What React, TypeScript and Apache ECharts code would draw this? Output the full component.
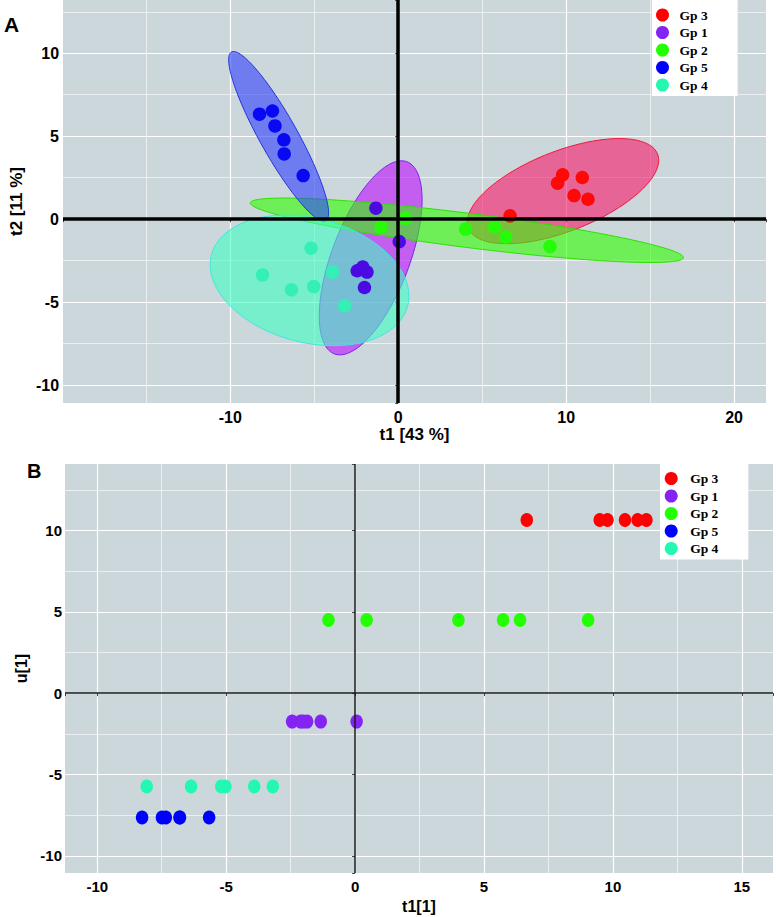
import React, { useEffect, useRef } from "react";
import * as echarts from "echarts";

// ---------------- data ----------------
const groups = ["Gp 3", "Gp 1", "Gp 2", "Gp 5", "Gp 4"];

// Panel A: scores t1 / t2
const t1Gp3 = [9.79, 9.49, 10.96, 10.47, 11.3, 6.66];
const t2Gp3 = [2.67, 2.17, 2.51, 1.42, 1.2, 0.2];
const t1Gp1 = [-1.33, 0.06, -2.44, -2.11, -1.86, -2.01];
const t2Gp1 = [0.66, -1.35, -3.11, -2.89, -3.19, -4.12];
const t1Gp2 = [-1.03, 0.45, 4.01, 5.74, 6.4, 9.04];
const t2Gp2 = [-0.48, 0.04, -0.6, -0.48, -1.08, -1.65];
const t1Gp5 = [-8.26, -7.49, -7.34, -6.81, -6.79, -5.66];
const t2Gp5 = [6.33, 6.52, 5.62, 4.78, 3.93, 2.63];
const t1Gp4 = [-5.19, -8.08, -6.36, -5.03, -3.91, -3.19];
const t2Gp4 = [-1.75, -3.36, -4.26, -4.06, -3.19, -5.22];

// Panel B: u[1] per sample (t1[1] = t1 above)
const u1Gp3 = [10.65, 10.65, 10.65, 10.65, 10.65, 10.65];
const u1Gp1 = [-1.75, -1.75, -1.75, -1.75, -1.75, -1.75];
const u1Gp2 = [4.5, 4.5, 4.5, 4.5, 4.5, 4.5];
const u1Gp5 = [-7.65, -7.65, -7.65, -7.65, -7.65, -7.65];
const u1Gp4 = [-5.74, -5.74, -5.74, -5.74, -5.74, -5.74];

// Confidence ellipses: [centre t1, centre t2, semi-axis a, semi-axis b, angle deg]
const ellipseGp3 = [9.81, 1.69, 6.06, 2.41, 21.7];
const ellipseGp1 = [-1.64, -2.33, 6.18, 2.32, 69.6];
const ellipseGp2 = [4.09, -0.67, 13.0, 1.03, -7.3];
const ellipseGp5 = [-7.12, 4.99, 5.81, 1.13, -61.1];
const ellipseGp4 = [-5.28, -3.69, 6.04, 3.74, -14.9];

// ---------------- styles ----------------
const pointColors = ["#ff0000", "#8324f2", "#22ff00", "#0000ff", "#22f8b2"];
const pointColorsA = ["#ff0808", "#4c0ae2", "#26fb08", "#0808f5", "#34f0b6"];
const ellipseFills = [
  "rgba(248,23,103,0.6)",
  "rgba(190,14,255,0.6)",
  "rgba(48,255,0,0.6)",
  "rgba(48,64,253,0.6)",
  "rgba(65,255,194,0.6)",
];
const ellipseStrokes = ["#f01838", "#7a22ee", "#2ee000", "#2233dd", "#3ce8e0"];

const BG = "#cbd7db";
const SANS = "Liberation Sans, Arial, sans-serif";
const SERIF = "Liberation Serif, Times New Roman, serif";

const zip = (xs: number[], ys: number[]) => xs.map((x, i) => [x, ys[i]]);

const t1s = [t1Gp3, t1Gp1, t1Gp2, t1Gp5, t1Gp4];
const t2s = [t2Gp3, t2Gp1, t2Gp2, t2Gp5, t2Gp4];
const u1s = [u1Gp3, u1Gp1, u1Gp2, u1Gp5, u1Gp4];
const ellipses = [ellipseGp3, ellipseGp1, ellipseGp2, ellipseGp5, ellipseGp4];

const fmtEvery = (step: number) => (v: number) =>
  Math.abs(v / step - Math.round(v / step)) < 1e-6 ? String(Math.round(v)) : "";

function valueAxis(
  gridIndex: number,
  min: number,
  max: number,
  labelStep: number,
  name: string,
  nameGap: number,
  labelSize: number,
  nameSize: number,
  margin: number
) {
  return {
    type: "value",
    gridIndex,
    min,
    max,
    splitNumber: 5,
    name,
    nameLocation: "middle",
    nameGap,
    nameTextStyle: { fontFamily: SANS, fontWeight: "bold", fontSize: nameSize, color: "#000" },
    axisLine: { show: false },
    axisTick: { show: true, length: 3, lineStyle: { color: "#444", width: 1 } },
    axisLabel: {
      fontFamily: SANS,
      fontWeight: "bold",
      fontSize: labelSize,
      color: "#000",
      margin,
      formatter: fmtEvery(labelStep),
    },
    splitLine: {
      show: true,
      showMinLine: false,
      showMaxLine: false,
      lineStyle: { color: "#ffffff", width: 1.2 },
    },
    minorTick: { show: false, splitNumber: 2 },
    minorSplitLine: { show: true, lineStyle: { color: "#f2f5f6", width: 0.8 } },
  };
}

function legendAt(left: number, top: number, padLeft: number, padTop: number, textPad: number) {
  return {
    data: groups,
    orient: "vertical",
    left,
    top,
    width: 90,
    backgroundColor: "#ffffff",
    padding: [padTop, 30, 4, padLeft],
    icon: "circle",
    itemWidth: 14,
    itemHeight: 13,
    itemGap: 3.5,
    selectedMode: false,
    textStyle: {
      fontFamily: SERIF,
      fontWeight: "bold",
      fontSize: 13.5,
      color: "#000",
      padding: [0, 0, 0, textPad],
    },
  };
}

export default function App() {
  const ref = useRef<HTMLDivElement>(null);

  useEffect(() => {
    if (!ref.current) return;
    document.body.style.margin = "0";
    const chart = echarts.init(ref.current, null, { renderer: "svg" });

    const ellipseSeries = groups.map((g, i) => ({
      type: "custom",
      name: g + " ellipse",
      xAxisIndex: 0,
      yAxisIndex: 0,
      z: 2,
      silent: true,
      encode: { x: 0, y: 1 },
      data: [ellipses[i]],
      renderItem: (_params: any, api: any) => {
        const cx = api.value(0);
        const cy = api.value(1);
        const a = api.value(2);
        const b = api.value(3);
        const ang = (api.value(4) * Math.PI) / 180;
        const pts: number[][] = [];
        const n = 160;
        for (let k = 0; k < n; k++) {
          const t = (k / n) * Math.PI * 2;
          const dx = a * Math.cos(t);
          const dy = b * Math.sin(t);
          pts.push(
            api.coord([cx + dx * Math.cos(ang) - dy * Math.sin(ang), cy + dx * Math.sin(ang) + dy * Math.cos(ang)])
          );
        }
        return {
          type: "polygon",
          shape: { points: pts },
          style: { fill: ellipseFills[i], stroke: ellipseStrokes[i], lineWidth: 1 },
        };
      },
    }));

    // Panel B series first (legend takes colours from the first series of a name)
    const scatterB = groups.map((g, i) => ({
      type: "scatter",
      name: g,
      xAxisIndex: 1,
      yAxisIndex: 1,
      z: 4,
      symbol: "circle",
      symbolSize: [12.5, 14],
      itemStyle: { color: pointColors[i], opacity: 1 },
      data: zip(t1s[i], u1s[i]),
    }));

    const scatterA = groups.map((g, i) => ({
      type: "scatter",
      name: g,
      xAxisIndex: 0,
      yAxisIndex: 0,
      z: 4,
      symbol: "circle",
      symbolSize: 13.5,
      itemStyle: { color: pointColorsA[i], opacity: 1 },
      data: zip(t1s[i], t2s[i]),
    }));

    const zeroLines = (idx: number, width: number, color: string) => ({
      type: "scatter",
      name: "_zero" + idx,
      xAxisIndex: idx,
      yAxisIndex: idx,
      z: 3,
      silent: true,
      data: [],
      markLine: {
        silent: true,
        symbol: "none",
        label: { show: false },
        lineStyle: { color, width, type: "solid" },
        data: [{ xAxis: 0 }, { yAxis: 0 }],
      },
    });

    chart.setOption({
      animation: false,
      backgroundColor: "#ffffff",
      title: [
        {
          text: "A",
          left: 4,
          top: 14,
          padding: 0,
          textStyle: { fontFamily: SANS, fontWeight: "bold", fontSize: 21, color: "#000" },
        },
        {
          text: "B",
          left: 27,
          top: 461,
          padding: 0,
          textStyle: { fontFamily: SANS, fontWeight: "bold", fontSize: 20, color: "#000" },
        },
      ],
      legend: [legendAt(652, 0, 4, 8, 5), legendAt(660, 464, 4.7, 7.5, 7)],
      grid: [
        { left: 53, top: 0, width: 713, height: 403, show: true, backgroundColor: BG, borderWidth: 0 },
        { left: 65, top: 464, width: 708, height: 409, show: true, backgroundColor: BG, borderWidth: 0 },
      ],
      xAxis: [
        valueAxis(0, -19.96, 21.9, 10, "t1 [43 %]", 23, 16, 17, 6),
        valueAxis(1, -11.25, 16.21, 5, "t1[1]", 25, 15, 16, 6),
      ],
      yAxis: [
        valueAxis(0, -11.08, 13.21, 5, "t2 [11 %]", 25, 16, 17, 4),
        valueAxis(1, -11.06, 14.09, 5, "u[1]", 26, 15, 16, 3),
      ],
      series: [...scatterB, ...ellipseSeries, zeroLines(0, 3.5, "#000000"), zeroLines(1, 1.5, "#1a1a1a"), ...scatterA],
    });

    return () => chart.dispose();
  }, []);

  return (
    <div
      ref={ref}
      style={{ position: "absolute", left: 0, top: 0, width: 776, height: 917 }}
    />
  );
}
